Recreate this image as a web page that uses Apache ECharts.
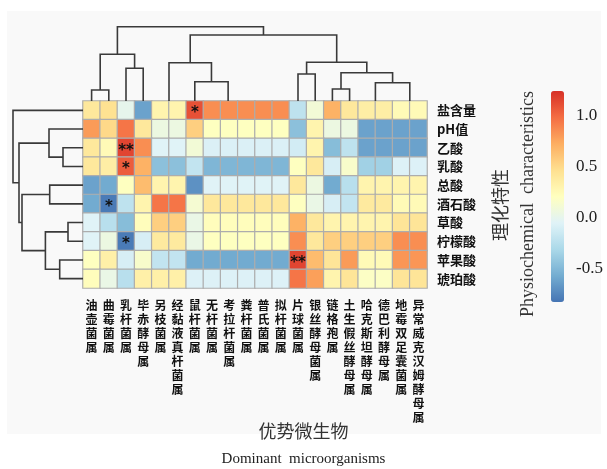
<!DOCTYPE html>
<html>
<head>
<meta charset="utf-8">
<script src="https://cdn.jsdelivr.net/npm/echarts@6/dist/echarts.min.js"></script>
<style>
  html, body { margin: 0; padding: 0; background: #fff; }
  #chart { width: 607px; height: 469px; }
</style>
</head>
<body>
<div id="chart"></div>
<script>
// 优势微生物（列）
const colNames = ['油壶菌属', '曲霉菌属', '乳杆菌属', '毕赤酵母属', '另枝菌属', '经黏液真杆菌属', '鼠杆菌属',
  '无杆菌属', '考拉杆菌属', '粪杆菌属', '普氏菌属', '拟杆菌属', '片球菌属', '银丝酵母菌属', '链格孢属',
  '土生假丝酵母属', '哈克斯坦酵母属', '德巴利酵母属', '地霉双足囊菌属', '异常威克汉姆酵母属'];
// 理化特性（行）
const rowNames = ['盐含量', 'pH值', '乙酸', '乳酸', '总酸', '酒石酸', '草酸', '柠檬酸', '苹果酸', '琥珀酸'];

// 每行的相关系数
const salt = [0.4, 0.45, 0.0, -0.62, 0.3, 0.3, 1.1, 0.85, 0.85, 0.85, 0.85, 0.85, -0.22, 0.1, 0.7, 0.4, 0.35, 0.35, 0.25, 0.25];
const ph = [0.8, 0.5, 0.95, 0.4, 0.05, 0.05, 0.55, 0.2, 0.2, 0.2, 0.2, 0.2, -0.46, 0.3, 0.05, 0.05, -0.62, -0.62, -0.62, -0.62];
const acetic = [0.4, 0.25, 1.15, 0.85, -0.05, -0.05, 0.1, -0.08, -0.08, -0.08, -0.08, -0.08, -0.12, 0.3, -0.48, -0.22, -0.62, -0.62, -0.62, -0.62];
const lactic = [0.4, 0.35, 1.05, 0.7, -0.46, -0.46, -0.2, -0.52, -0.52, -0.52, -0.52, -0.52, 0.2, 0.4, -0.1, 0.15, -0.36, -0.36, -0.07, -0.07];
const totalAcid = [-0.62, -0.58, 0.2, 0.65, 0.3, 0.3, -0.7, -0.05, -0.05, -0.05, -0.05, -0.05, 0.4, 0.05, -0.58, -0.25, 0.3, 0.3, 0.3, 0.3];
const tartaric = [-0.58, -0.8, -0.22, 0.3, 0.95, 0.95, 0.12, 0.4, 0.4, 0.4, 0.4, 0.4, 0.2, 0.03, -0.1, -0.2, 0.38, 0.38, 0.25, 0.25];
const oxalic = [-0.05, -0.25, -0.48, 0.22, 0.55, 0.55, 0.03, 0.22, 0.22, 0.22, 0.22, 0.22, 0.7, 0.4, 0.3, 0.3, 0.3, 0.3, 0.42, 0.42];
const citric = [-0.05, 0.05, -0.8, -0.1, 0.38, 0.38, 0.03, 0.2, 0.2, 0.2, 0.2, 0.2, 0.85, 0.4, 0.55, 0.55, 0.55, 0.55, 0.85, 0.85];
const malic = [0.2, 0.33, -0.1, 0.15, -0.2, -0.2, -0.58, -0.58, -0.58, -0.58, -0.58, -0.58, 1.15, 0.65, 0.42, 0.8, 0.25, 0.25, 0.82, 0.82];
const succinic = [0.22, 0.03, -0.25, 0.33, 0.33, 0.33, -0.07, -0.07, -0.07, -0.07, -0.07, -0.07, 0.95, 0.78, 0.3, 0.42, 0.18, 0.18, 0.42, 0.42];
const rowValues = [salt, ph, acetic, lactic, totalAcid, tartaric, oxalic, citric, malic, succinic];

// 显著性标记 [列, 行, 标记]
const sigMarks = [[6, 0, '*'], [2, 2, '**'], [2, 3, '*'], [1, 5, '*'], [2, 7, '*'], [12, 8, '**']];

// 聚类树 [左节点, 右节点, 高度]，叶子编号在前，新节点依次编号
const colLinkage = [
  [4, 5, 0], [10, 11, 0], [9, 21, 0], [8, 22, 0], [7, 23, 0], [16, 17, 0], [18, 19, 0],
  [0, 1, 11], [2, 3, 32.7], [6, 24, 19.3], [14, 15, 12], [25, 26, 18.3], [12, 13, 27],
  [30, 31, 28.3], [20, 29, 38.3], [32, 33, 38.7], [27, 28, 46.7], [34, 35, 66], [36, 37, 74.3]
];
const rowLinkage = [
  [2, 3, 20], [6, 7, 15], [8, 9, 23.3], [4, 5, 33.3], [1, 10, 34], [11, 12, 37.6],
  [13, 15, 61], [14, 16, 64], [0, 17, 70]
];

const colorTicks = [-0.5, 0, 0.5, 1.0];
const valMin = -0.83, valMax = 1.24;

// 树状图折线
function dendroLines(linkage, nLeaves, sideways) {
  const pos = [], hgt = [], segs = [];
  for (let i = 0; i < nLeaves; i++) { pos[i] = i + 0.5; hgt[i] = 0; }
  linkage.forEach((m, k) => {
    const [a, b, h] = m;
    const id = nLeaves + k;
    pos[id] = (pos[a] + pos[b]) / 2;
    hgt[id] = h;
    if (h <= 0) return;
    let pts = [[pos[a], hgt[a]], [pos[a], h], [pos[b], h], [pos[b], hgt[b]]];
    if (sideways) pts = pts.map(p => [p[1], p[0]]);
    segs.push({coords: pts});
  });
  return segs;
}

const heatData = [];
rowValues.forEach((vals, r) => {
  vals.forEach((v, c) => heatData.push([c, r, v]));
});
const markMap = {};
sigMarks.forEach(s => { markMap[s[0] + '_' + s[1]] = s[2]; });

const treeLine = {color: '#3a3a3a', width: 1.6, opacity: 1};

const option = {
  animation: false,
  backgroundColor: '#fff',
  graphic: [
    {type: 'rect', z: -10, shape: {x: 7, y: 11, width: 594, height: 423}, style: {fill: '#f9f9f9'}},
    {type: 'text', x: 500, y: 205, rotation: Math.PI / 2,
      style: {text: '理化特性', font: '18px "Noto Sans CJK SC"', fill: '#333', align: 'center', verticalAlign: 'middle'}},
    {type: 'text', x: 528, y: 204, rotation: Math.PI / 2,
      style: {text: 'Physiochemical  characteristics', font: '18px "Liberation Serif"', fill: '#333', align: 'center', verticalAlign: 'middle'}}
  ],
  title: {
    text: '优势微生物',
    subtext: 'Dominant  microorganisms',
    left: 'center',
    top: 422,
    itemGap: 12,
    padding: 0,
    textStyle: {fontSize: 18, fontWeight: 'normal', color: '#333', fontFamily: 'Noto Sans CJK SC'},
    subtextStyle: {fontSize: 15, color: '#222', fontFamily: 'Liberation Serif'}
  },
  grid: [
    {left: 83, top: 101, width: 344, height: 187},
    {left: 83, top: 26, width: 344, height: 75},
    {left: 0, top: 101, width: 83, height: 187},
    {left: 551, top: 91, width: 13, height: 211}
  ],
  xAxis: [
    {
      type: 'category', gridIndex: 0, data: colNames, position: 'bottom',
      axisLine: {show: false}, axisTick: {show: false}, splitLine: {show: false},
      axisLabel: {
        interval: 0, margin: 10, fontSize: 12, lineHeight: 14, fontWeight: 'bold',
        color: '#111', fontFamily: 'Noto Sans CJK SC',
        formatter: v => v.split('').join('\n')
      }
    },
    {type: 'value', gridIndex: 1, min: 0, max: 20, show: false},
    {type: 'value', gridIndex: 2, min: 0, max: 83, inverse: true, show: false},
    {type: 'value', gridIndex: 3, min: 0, max: 1, show: false}
  ],
  yAxis: [
    {
      type: 'category', gridIndex: 0, data: rowNames, inverse: true, position: 'right',
      axisLine: {show: false}, axisTick: {show: false}, splitLine: {show: false},
      axisLabel: {margin: 10, fontSize: 13, fontWeight: 'bold', color: '#111', fontFamily: 'Noto Sans CJK SC'}
    },
    {type: 'value', gridIndex: 1, min: 0, max: 75, show: false},
    {type: 'value', gridIndex: 2, min: 0, max: 10, inverse: true, show: false},
    {
      type: 'value', gridIndex: 3, min: valMin, max: valMax, position: 'right',
      axisLine: {show: false}, axisTick: {show: false}, splitLine: {show: false},
      axisLabel: {
        customValues: colorTicks, margin: 12, fontSize: 17, color: '#222',
        fontFamily: 'Liberation Serif', formatter: v => v.toFixed(1)
      }
    }
  ],
  visualMap: {
    type: 'continuous',
    seriesIndex: 0,
    min: valMin,
    max: valMax,
    calculable: false,
    orient: 'vertical',
    left: 551,
    top: 91,
    padding: 0,
    itemWidth: 13,
    itemHeight: 211,
    text: null,
    inRange: {
      color: ['#4575b4', '#74add1', '#abd9e9', '#e0f3f8', '#ffffbf', '#fee090', '#fdae61', '#f46d43', '#d73027']
    }
  },
  series: [
    {
      type: 'heatmap',
      xAxisIndex: 0,
      yAxisIndex: 0,
      data: heatData,
      itemStyle: {borderColor: '#adadad', borderWidth: 1.2},
      emphasis: {disabled: true},
      label: {
        show: true,
        color: '#111',
        fontSize: 15,
        fontWeight: 'bold',
        fontFamily: 'DejaVu Sans',
        offset: [0, 3],
        formatter: p => markMap[p.value[0] + '_' + p.value[1]] || ''
      }
    },
    {
      type: 'lines', coordinateSystem: 'cartesian2d', xAxisIndex: 1, yAxisIndex: 1,
      polyline: true, silent: true, lineStyle: treeLine,
      data: dendroLines(colLinkage, colNames.length, false)
    },
    {
      type: 'lines', coordinateSystem: 'cartesian2d', xAxisIndex: 2, yAxisIndex: 2,
      polyline: true, silent: true, lineStyle: treeLine,
      data: dendroLines(rowLinkage, rowNames.length, true)
    }
  ]
};

echarts.init(document.getElementById('chart')).setOption(option);
</script>
</body>
</html>
